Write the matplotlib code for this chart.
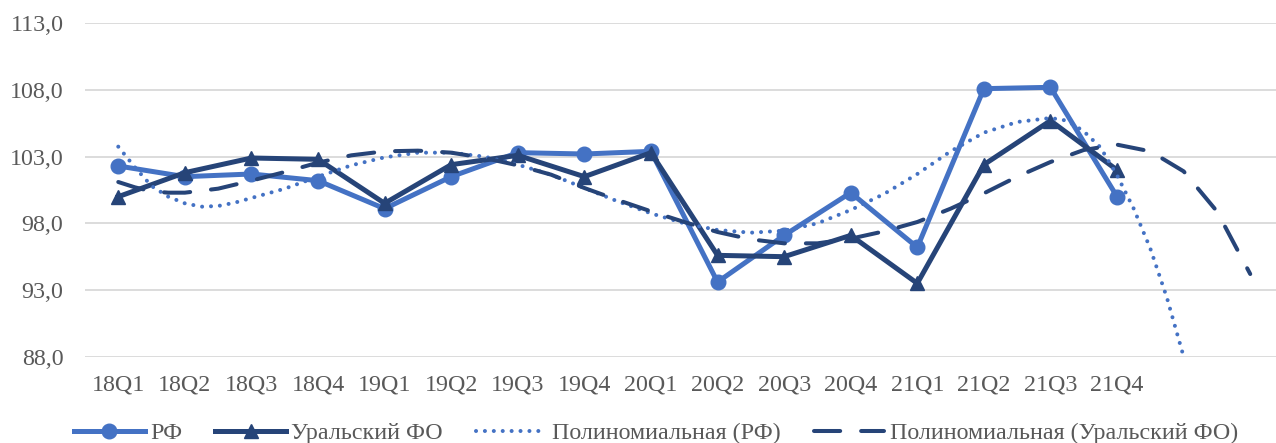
import matplotlib
matplotlib.use("Agg")

import matplotlib.pyplot as plt
from matplotlib.ticker import FixedLocator, FuncFormatter


QUARTERS = ["18Q1", "18Q2", "18Q3", "18Q4", "19Q1", "19Q2", "19Q3", "19Q4",
            "20Q1", "20Q2", "20Q3", "20Q4", "21Q1", "21Q2", "21Q3", "21Q4"]
RF_VALUES = [102.3, 101.5, 101.7, 101.2, 99.1, 101.5, 103.3, 103.2,
             103.4, 93.6, 97.1, 100.3, 96.2, 108.1, 108.2, 100.0]
URAL_VALUES = [100.0, 101.8, 102.9, 102.8, 99.5, 102.4, 103.1, 101.5,
               103.3, 95.6, 95.5, 97.1, 93.5, 102.4, 105.7, 102.0]

# trendlines (position in quarter index, value)
RF_TREND_X = [0, 0.25, 0.5, 0.75, 1.0, 1.25, 1.5, 1.75, 2.0, 2.5, 3.0, 3.5, 4.0, 4.5,
              5.0, 5.5, 6.0, 6.5, 7.0, 7.5, 8.0, 8.5, 9.0, 9.5, 10.0, 10.5, 11.0,
              11.5, 12.0, 12.5, 13.0, 13.5, 14.0, 14.25, 14.5, 14.75, 15.0, 15.25,
              15.5, 15.75, 16.0, 16.25]
RF_TREND_Y = [103.75, 102.2, 100.8, 100.0, 99.5, 99.25, 99.3, 99.55, 99.9, 100.6,
              101.5, 102.35, 102.95, 103.3, 103.3, 103.0, 102.4, 101.65, 100.65,
              99.65, 98.75, 98.0, 97.5, 97.3, 97.45, 98.0, 99.0, 100.2, 101.7,
              103.4, 104.8, 105.6, 105.9, 105.7, 104.9, 103.7, 101.6, 99.1, 96.1,
              92.4, 88.0, 83.0]
URAL_TREND_X = [0, 0.25, 0.5, 0.75, 1.0, 1.5, 2.0, 2.5, 3.0, 3.5, 4.0, 4.5, 5.0,
                5.5, 6.0, 6.5, 7.0, 7.5, 8.0, 8.5, 9.0, 9.5, 10.0, 10.5, 11.0, 11.5,
                12.0, 12.5, 13.0, 13.5, 14.0, 14.5, 15.0, 15.5, 16.0, 16.5, 17.0]
URAL_TREND_Y = [101.1, 100.7, 100.4, 100.3, 100.3, 100.6, 101.2, 101.85, 102.55,
                103.1, 103.4, 103.45, 103.3, 102.9, 102.35, 101.65, 100.65, 99.75,
                98.9, 98.1, 97.35, 96.8, 96.5, 96.5, 96.85, 97.4, 98.1, 99.1, 100.25,
                101.5, 102.6, 103.5, 103.9, 103.4, 101.9, 98.9, 94.2]

Y_TICKS = [88, 93, 98, 103, 108, 113]

RF_COLOR = "#4472C4"
URAL_COLOR = "#264478"
TEXT_COLOR = "#595959"
GRID_COLOR = "#d9d9d9"
FONT = ["Liberation Serif", "DejaVu Serif"]
FONT_SIZE = 17.3

plt.rcParams["font.family"] = FONT

fig = plt.figure(figsize=(12.76, 4.43), dpi=100)
ax = fig.add_axes([0.0666, 0.1948, 0.9393, 0.7526])

x = list(range(len(QUARTERS)))
ax.plot(x, RF_VALUES, color=RF_COLOR, lw=3.6, marker="o", ms=10.5,
        label="РФ", zorder=3)
ax.plot(x, URAL_VALUES, color=URAL_COLOR, lw=3.6, marker="^", ms=10,
        label="Уральский ФО", zorder=4)
ax.plot(RF_TREND_X, RF_TREND_Y, color=RF_COLOR, lw=2.9,
        ls=(0, (0.01, 2.2)), dash_capstyle="round",
        label="Полиномиальная (РФ)", zorder=5)
ax.plot(URAL_TREND_X, URAL_TREND_Y, color=URAL_COLOR, lw=2.9,
        ls=(0, (6.5, 5.2)), dash_capstyle="round",
        label="Полиномиальная (Уральский ФО)", zorder=5)

ax.set_xlim(-0.5, 17.5)
ax.set_ylim(88, 113)
ax.xaxis.set_major_locator(FixedLocator(x))
ax.set_xticklabels(QUARTERS)
ax.yaxis.set_major_locator(FixedLocator(Y_TICKS))
ax.yaxis.set_major_formatter(FuncFormatter(lambda v, _: f"{v:.1f}".replace(".", ",")))
ax.tick_params(axis="both", length=0, labelsize=FONT_SIZE, labelcolor=TEXT_COLOR)
ax.tick_params(axis="y", pad=15.5)
ax.tick_params(axis="x", pad=12.5)
ax.grid(axis="y", color=GRID_COLOR, lw=1.3, zorder=0)
ax.set_axisbelow(True)
for spine in ax.spines.values():
    spine.set_visible(False)

fig.legend(loc="center", bbox_to_anchor=(0.514, 0.022), ncol=4, frameon=False,
           fontsize=FONT_SIZE, labelcolor=TEXT_COLOR, handlelength=2.95,
           handletextpad=0.22, columnspacing=1.37, numpoints=1)

fig.savefig("out.png", dpi=100)
